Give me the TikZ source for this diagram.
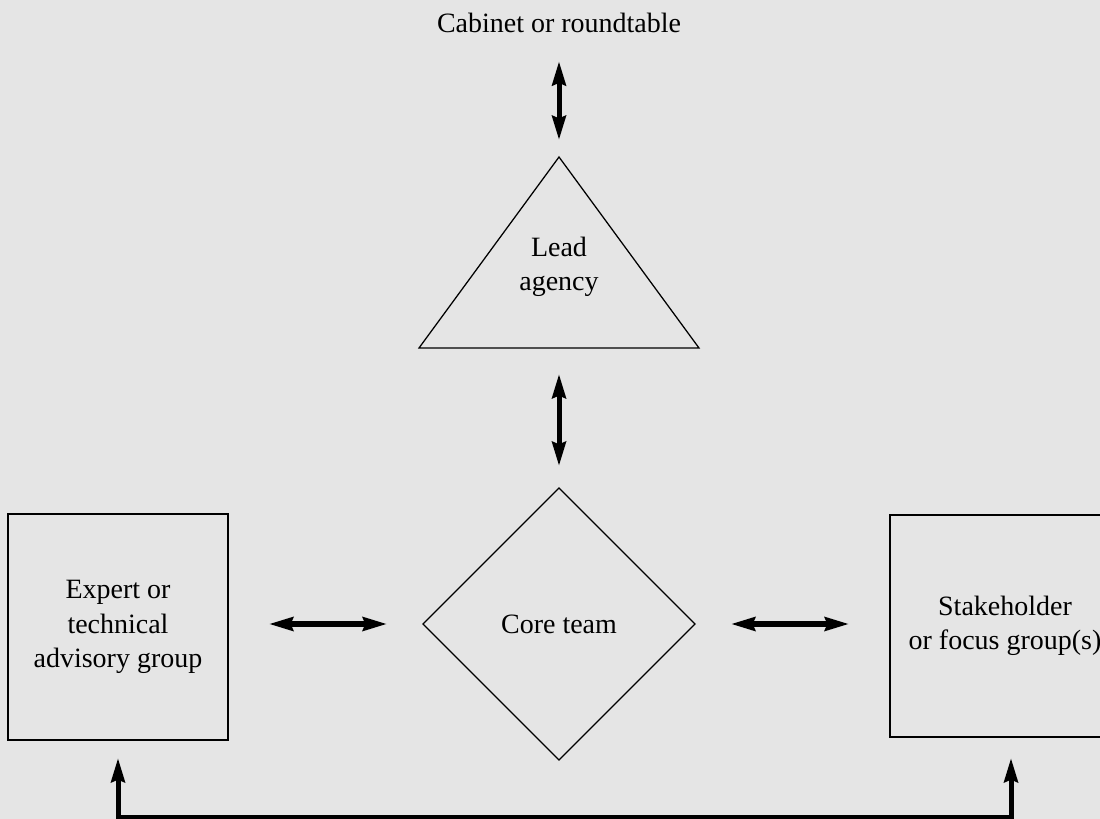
\documentclass[tikz,border=0pt]{standalone}
\usepackage{fontspec}
\setmainfont{Liberation Serif}
\usetikzlibrary{arrows.meta,shapes.geometric}
\definecolor{panel}{RGB}{229,229,229}
\begin{document}
\begin{tikzpicture}[x=0.025cm,y=-0.025cm,
		label/.style={inner sep=0pt,outer sep=0pt,align=center,font=\fontsize{19.9}{24.3}\selectfont},
		group/.style={label,draw,line width=0.9pt,rectangle},
		link/.style={line width=0.125cm,{Stealth[length=0.6cm,width=0.34cm,inset=0.06cm]}-{Stealth[length=0.6cm,width=0.34cm,inset=0.06cm]}}]
		\fill[panel] (0,0) rectangle (1100,819);
		\useasboundingbox (0,0) rectangle (1100,819);
		
		\node[label,anchor=base] (cabinet) at (559,33) {Cabinet or roundtable};
		
		\coordinate (apex) at (559,157);
		\coordinate (leadbase) at (559,348);
		\draw[line width=0.9pt,line join=miter] (apex) -- (419,348) -- (699,348) -- cycle;
		\node[label] (lead) at (559,267) {Lead\\agency};
		
		\node[label,draw,diamond,aspect=1,line width=0.9pt,minimum width=6.8cm,minimum height=6.8cm] (core) at (559,624) {Core team};
		\node[group,minimum width=5.5cm,minimum height=5.65cm] (expert) at (118,627) {Expert or\\technical\\advisory group};
		\node[group,minimum width=5.75cm,minimum height=5.55cm] (stake) at (1005,626) {Stakeholder\\or focus group(s)};
		\coordinate (rail) at (0,817);
		
		\draw[link,shorten <=0.7cm,shorten >=0.425cm] (cabinet.south) -- (apex);
		\draw[link,shorten <=0.65cm,shorten >=0.55cm] (leadbase) -- (core.north);
		\draw[link,shorten <=1.025cm,shorten >=0.9cm] (expert.east |- core.west) -- (core.west);
		\draw[link,shorten <=0.9cm,shorten >=1.025cm] (core.east) -- (stake.west |- core.east);
		\draw[link,shorten <=0.45cm,shorten >=0.525cm] (expert.south) -- (expert.south |- rail) -| ([xshift=0.15cm]stake.south);
	\end{tikzpicture}
\end{document}
